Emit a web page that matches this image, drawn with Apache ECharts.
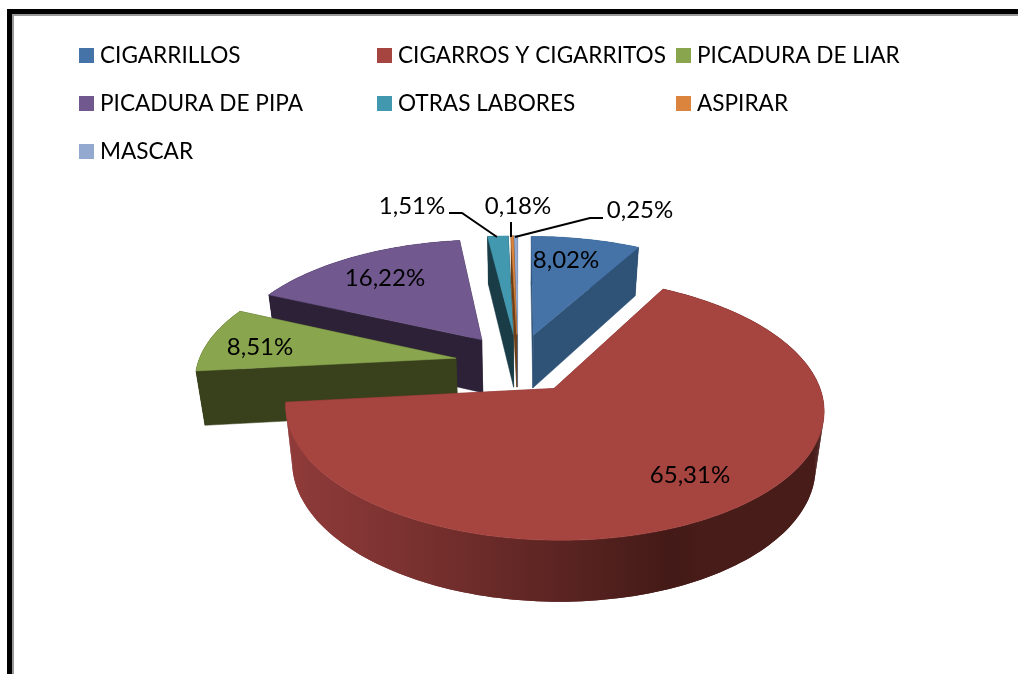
<!DOCTYPE html>
<html>
<head>
<meta charset="utf-8">
<title>Labores de tabaco</title>
<script src="https://cdn.jsdelivr.net/npm/echarts@6/dist/echarts.min.js"></script>
<style>
  html, body { margin: 0; padding: 0; background: #fff; }
  #chart { width: 1018px; height: 674px; }
</style>
</head>
<body>
<div id="chart"></div>
<script>
const categories = ['CIGARRILLOS', 'CIGARROS Y CIGARRITOS', 'PICADURA DE LIAR', 'PICADURA DE PIPA', 'OTRAS LABORES', 'ASPIRAR', 'MASCAR']
const shares = [8.02, 65.31, 8.51, 16.22, 1.51, 0.18, 0.25]
const shareLabels = ['8,02%', '65,31%', '8,51%', '16,22%', '1,51%', '0,18%', '0,25%']

const topColors = ['#4572a7', '#a64440', '#89a54e', '#71588f', '#4198af', '#db843d', '#93a9cf']
const sideColors = ['#2f5277', '#7a302d', '#38401c', '#2d2138', '#1a3c47', '#6e3f17', '#54678c']

// back to front, the painter's order of the slices
const drawOrder = [3, 4, 6, 5, 0, 2, 1]

// where each text goes, centre of the text
const labelPos = [[566, 260], [690, 475], [260, 347], [385, 278], [412, 206], [518, 206], [640, 210]]
const legendPos = [[79, 44], [377, 44], [676, 44], [79, 92], [377, 92], [676, 92], [79, 140]]

// projection of the tilted pie, fitted on the picture
const cx = 518
const cy = 363
const radiusX = 258
const radiusY = 121
const perspective = 0.148
const explode = 0.245
const depth = 54
const depthFall = 0.1
const bottomShrink = 0.972

function project(x, z, bottom) {
  const s = 1 / (1 + perspective * z)
  const px = radiusX * x * s
  const py = -radiusY * z * s
  if (!bottom) return [cx + px, cy + py]
  return [cx + px * bottomShrink, cy + py + depth / (1 + depthFall * z)]
}

const total = shares.reduce((a, b) => a + b, 0)

function sliceAngles(idx) {
  let start = 0
  for (let i = 0; i < idx; i++) start += shares[i] / total * Math.PI * 2
  return [start, start + shares[idx] / total * Math.PI * 2]
}

function renderSlice(idx) {
  const [a0, a1] = sliceAngles(idx)
  const mid = (a0 + a1) / 2
  const ox = explode * Math.sin(mid)
  const oz = explode * Math.cos(mid)
  const steps = Math.max(2, Math.ceil((a1 - a0) / 0.025))

  const topArc = []
  const bottomArc = []
  for (let i = 0; i <= steps; i++) {
    const a = a0 + (a1 - a0) * i / steps
    topArc.push(project(ox + Math.sin(a), oz + Math.cos(a), false))
    bottomArc.push(project(ox + Math.sin(a), oz + Math.cos(a), true))
  }
  const apexTop = project(ox, oz, false)
  const apexBottom = project(ox, oz, true)

  let wallFill = sideColors[idx]
  if (idx === 1) {
    wallFill = new echarts.graphic.LinearGradient(290, 0, 700, 0, [
      { offset: 0, color: '#8f3b3a' },
      { offset: 0.28, color: '#7b3230' },
      { offset: 0.66, color: '#5b2422' },
      { offset: 0.93, color: '#431a17' },
      { offset: 1, color: '#471c19' }
    ], true)
  }

  const poly = (points, fill, z2, line) => ({
    type: 'polygon',
    z2: z2,
    shape: { points: points },
    style: line ? { fill: fill, stroke: fill, lineWidth: line } : { fill: fill },
    silent: true
  })

  const children = [
    poly([apexTop, topArc[0], bottomArc[0], apexBottom], sideColors[idx], 1, 0.5),
    poly([apexTop, topArc[steps], bottomArc[steps], apexBottom], sideColors[idx], 1, 0.5)
  ]
  // strip under the wall so the outline joins the rim at the far left and right
  for (let i = 0; i < steps; i++) {
    children.push(poly([topArc[i], topArc[i + 1], bottomArc[i + 1], bottomArc[i]], wallFill, 2))
  }
  children.push(poly(topArc.concat(bottomArc.slice().reverse()), wallFill, 3))
  children.push(poly([apexTop].concat(topArc), topColors[idx], 4, 0.5))

  return { type: 'group', children: children }
}

const series = drawOrder.map((idx, order) => ({
  name: categories[idx],
  type: 'custom',
  coordinateSystem: 'none',
  z: 2 + order,
  silent: true,
  itemStyle: { color: topColors[idx] },
  data: [shares[idx]],
  renderItem: () => renderSlice(idx)
}))

const labelFont = { fontFamily: 'Lato', fontSize: 24, fill: '#000' }

const chart = echarts.init(document.getElementById('chart'), null, { renderer: 'canvas' })

chart.setOption({
  animation: false,
  backgroundColor: '#fff',
  legend: categories.map((name, i) => ({
    data: [name],
    left: legendPos[i][0],
    top: legendPos[i][1],
    padding: 0,
    icon: 'rect',
    itemWidth: 15,
    itemHeight: 15,
    itemGap: 0,
    selectedMode: false,
    textStyle: { fontFamily: 'Lato', fontSize: 22.6, color: '#000', padding: [0, 0, 0, 1] }
  })),
  series: series,
  graphic: {
    elements: [
      // frame of the sheet
      { type: 'rect', z: 20, shape: { x: 7, y: 9, width: 1011, height: 5 }, style: { fill: '#000' } },
      { type: 'rect', z: 20, shape: { x: 7, y: 9, width: 5, height: 665 }, style: { fill: '#000' } },
      { type: 'rect', z: 19, shape: { x: 12, y: 14, width: 1006, height: 2 }, style: { fill: '#999' } },
      { type: 'rect', z: 19, shape: { x: 12, y: 14, width: 2, height: 660 }, style: { fill: '#999' } },
      // leader lines
      { type: 'polyline', z: 20, shape: { points: [[449, 213], [462, 213], [497, 237]] }, style: { stroke: '#000', lineWidth: 2, fill: null } },
      { type: 'polyline', z: 20, shape: { points: [[511, 222], [511, 237]] }, style: { stroke: '#000', lineWidth: 2, fill: null } },
      { type: 'polyline', z: 20, shape: { points: [[515, 237], [590, 218], [603, 218]] }, style: { stroke: '#000', lineWidth: 2, fill: null } }
    ].concat(shareLabels.map((text, i) => ({
      type: 'text',
      z: 21,
      x: labelPos[i][0],
      y: labelPos[i][1],
      style: Object.assign({ text: text, align: 'center', verticalAlign: 'middle' }, labelFont)
    })))
  }
})
</script>
</body>
</html>
